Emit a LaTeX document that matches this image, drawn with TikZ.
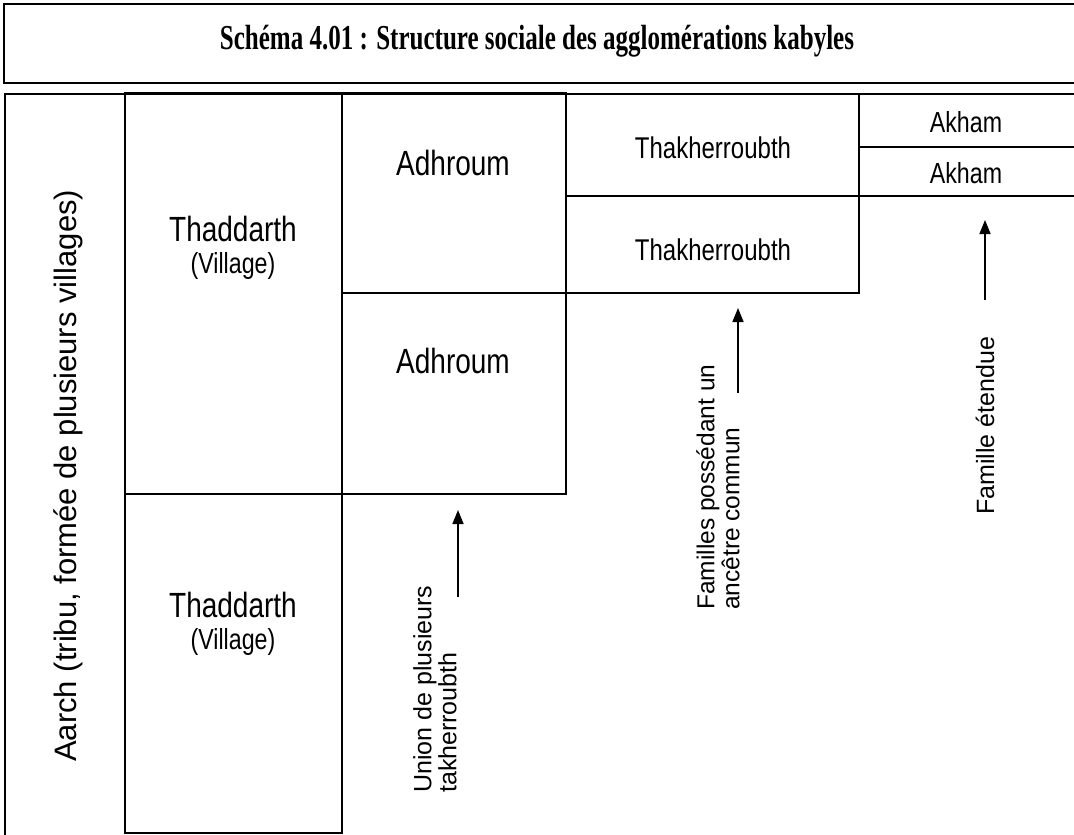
\documentclass[tikz,border=0pt]{standalone}
\usepackage{fontspec}
\setmainfont{Liberation Sans}
\newfontfamily\cf[FakeStretch=0.8]{Liberation Sans}
\newfontfamily\tf[FakeStretch=0.715]{Liberation Serif}
\usetikzlibrary{arrows.meta}
\begin{document}
\begin{tikzpicture}[x=1pt,y=1pt,
  cell/.style={draw, line width=1.6pt, anchor=north west, inner sep=0pt, outer sep=0pt},
  lbl/.style={inner sep=0pt, align=center},
  vlbl/.style={rotate=90, anchor=west, align=left, inner sep=0pt},
  arr/.style={line width=1.6pt, -{Triangle[length=14pt,width=11pt]}}
]
\useasboundingbox (0,0) rectangle (1074,-835);
\clip (0,0) rectangle (1074,-835);
% title
\node[cell, minimum width=1090, minimum height=79] (title) at (4,-4) {};
\node[lbl, font=\tf\bfseries\fontsize{35}{38}\selectfont] (titletext) at (537,-41) {Schéma 4.01 : Structure sociale des agglomérations kabyles};
% cells
\node[cell, minimum width=1080, minimum height=760] (aarch) at (5,-94) {};
\node[cell, minimum width=217, minimum height=401] (thad1) at (125,-93) {};
\node[cell, minimum width=217, minimum height=339] (thad2) at (125,-494) {};
\node[cell, minimum width=224, minimum height=200] (adh1) at (342,-93) {};
\node[cell, minimum width=224, minimum height=201] (adh2) at (342,-293) {};
\node[cell, minimum width=293, minimum height=102] (thak1) at (566,-94) {};
\node[cell, minimum width=293, minimum height=97] (thak2) at (566,-196) {};
\node[cell, minimum width=230, minimum height=53] (akh1) at (859,-94) {};
\node[cell, minimum width=230, minimum height=49] (akh2) at (859,-147) {};
% horizontal texts
\node[lbl, font=\cf\fontsize{35}{36}\selectfont] (t1a) at (233,-229) {Thaddarth};
\node[lbl, font=\cf\fontsize{29}{30}\selectfont] (t1b) at (233,-266) {(Village)};
\node[lbl, font=\cf\fontsize{35}{36}\selectfont] (t2a) at (233,-605) {Thaddarth};
\node[lbl, font=\cf\fontsize{29}{30}\selectfont] (t2b) at (233,-642) {(Village)};
\node[lbl, font=\cf\fontsize{35}{36}\selectfont] (ad1) at (453,-163) {Adhroum};
\node[lbl, font=\cf\fontsize{35}{36}\selectfont] (ad2) at (453,-361) {Adhroum};
\node[lbl, font=\cf\fontsize{30}{30}\selectfont] (tk1) at (713,-148) {Thakherroubth};
\node[lbl, font=\cf\fontsize{30}{30}\selectfont] (tk2) at (713,-250) {Thakherroubth};
\node[lbl, font=\cf\fontsize{29}{30}\selectfont] (ak1) at (966,-122) {Akham};
\node[lbl, font=\cf\fontsize{29}{30}\selectfont] (ak2) at (966,-173) {Akham};
% vertical texts
\node[vlbl, font=\fontsize{31}{34}\selectfont] (aarchlbl) at (68,-762) {Aarch (tribu, formée de plusieurs villages)};
\node[vlbl, font=\fontsize{25}{25}\selectfont] (ulbl) at (435,-793) {Union de plusieurs\\takherroubth};
\node[vlbl, font=\fontsize{24.5}{25}\selectfont] (flbl) at (718,-610) {Familles possédant un\\ancêtre commun};
\node[vlbl, font=\fontsize{25}{26}\selectfont] (elbl) at (985,-515) {Famille étendue};
% arrows
\coordinate (a1s) at (458,-597); \coordinate (a1e) at (458,-510);
\coordinate (a2s) at (738,-393); \coordinate (a2e) at (738,-308);
\coordinate (a3s) at (985,-300); \coordinate (a3e) at (985,-220);
\draw[arr] (a1s) -- (a1e);
\draw[arr] (a2s) -- (a2e);
\draw[arr] (a3s) -- (a3e);
\end{tikzpicture}
\end{document}
